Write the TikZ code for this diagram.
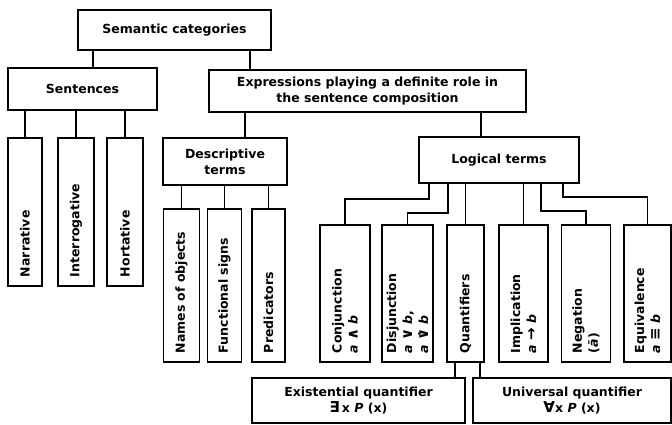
\documentclass[tikz,border=0pt]{standalone}
\usepackage{fontspec}
\setmainfont{DejaVu Sans}

\newcommand{\sym}[1]{{\fontsize{15}{15}\selectfont#1}}
\newcommand{\xor}{\ooalign{\sym{∨}\cr\hidewidth\raisebox{.6em}{.}\hidewidth\cr}}

\tikzset{
  box/.style={draw, line width=1.8pt, align=center, inner sep=2pt},
  vbox/.style={draw, line width=1.8pt, rotate=90, align=left, inner xsep=9pt, inner ysep=0pt},
  link/.style={line width=1.5pt},
}

\begin{document}
\begin{tikzpicture}[x=1pt, y=-1pt, font=\fontsize{12.5}{16}\selectfont\bfseries]
\useasboundingbox (0,0) rectangle (672,424);

\node[box, minimum width=193pt, minimum height=40pt] (sem) at (174.5,30) {Semantic categories};
\node[box, minimum width=149pt, minimum height=42pt] (sent) at (82.5,89) {Sentences};
\node[box, minimum width=317pt, minimum height=42pt] (expr) at (367.5,91) {Expressions playing a definite role in\\the sentence composition};

% kinds of sentences
\node[vbox, minimum height=34pt, text width=130pt] (narr) at (25,212) {Narrative};
\node[vbox, minimum height=36pt, text width=130pt] (interr) at (76,212) {Interrogative};
\node[vbox, minimum height=36pt, text width=130pt] (hort) at (125,212) {Hortative};

\node[box, minimum width=124pt, minimum height=47pt] (desc) at (225,161.5) {Descriptive\\terms};
\node[box, minimum width=160pt, minimum height=46pt] (logic) at (499,160) {Logical terms};

% descriptive terms
\node[vbox, minimum height=36pt, text width=135pt] (names) at (181.5,285.5) {Names of objects};
\node[vbox, minimum height=34pt, text width=135pt] (func) at (224.5,285.5) {Functional signs};
\node[vbox, minimum height=33pt, text width=135pt] (pred) at (268.5,285.5) {Predicators};

% logical terms
\node[vbox, minimum height=50pt, text width=119pt] (conj) at (345,293.5) {Conjunction\\\textit{a} \sym{∧} \textit{b}};
\node[vbox, minimum height=51pt, text width=119pt] (disj) at (407.5,293.5) {Disjunction\\\textit{a} \sym{∨} \textit{b},\\\textit{a} \xor\ \textit{b}};
\node[vbox, minimum height=37pt, text width=119pt] (quant) at (465.5,293.5) {Quantifiers};
\node[vbox, minimum height=49pt, text width=119pt] (impl) at (523.5,293.5) {Implication\\\textit{a} \sym{→} \textit{b}};
\node[vbox, minimum height=49pt, text width=119pt] (neg) at (586,293.5) {Negation\\(\textit{ā})};
\node[vbox, minimum height=47pt, text width=119pt] (equiv) at (647.5,293.5) {Equivalence\\\textit{a} \sym{≡} \textit{b}};

\node[box, minimum width=213pt, minimum height=45pt] (exist) at (358.5,400.5) {Existential quantifier\\\sym{∃}\,x \textit{P} (x)};
\node[box, minimum width=198pt, minimum height=45pt] (univ) at (572,400.5) {Universal quantifier\\\sym{∀}x \textit{P} (x)};

% connectors
\coordinate (a1) at ([xshift=10.5pt]sent.north);
\draw[link] (a1) -- (a1 |- sem.south);
\coordinate (a2) at ([xshift=-117.5pt]expr.north);
\draw[link] (a2) -- (a2 |- sem.south);
\foreach \n in {narr,interr,hort}
  \draw[link] (\n.east) -- (\n.east |- sent.south);

\coordinate (b1) at ([xshift=20pt]desc.north);
\draw[link] (b1) -- (b1 |- expr.south);
\coordinate (b2) at ([xshift=-18pt]logic.north);
\draw[link] (b2) -- (b2 |- expr.south);
\foreach \n in {names,func,pred}
  \draw[link] (\n.east) -- (\n.east |- desc.south);

\draw[link] ([xshift=-70pt]logic.south) -- ++(0,15) -| (conj.east);
\draw[link] ([xshift=-51pt]logic.south) -- ++(0,29) -| (disj.east);
\draw[link] (quant.east) -- (quant.east |- logic.south);
\draw[link] (impl.east) -- (impl.east |- logic.south);
\draw[link] ([xshift=42pt]logic.south) -- ++(0,27) -| (neg.east);
\draw[link] ([xshift=64pt]logic.south) -- ++(0,13) -| (equiv.east);

\coordinate (q1) at ([xshift=-10.5pt]quant.west);
\draw[link] (q1) -- (q1 |- exist.north);
\coordinate (q2) at ([xshift=14.5pt]quant.west);
\draw[link] (q2) -- (q2 |- univ.north);
\end{tikzpicture}
\end{document}
